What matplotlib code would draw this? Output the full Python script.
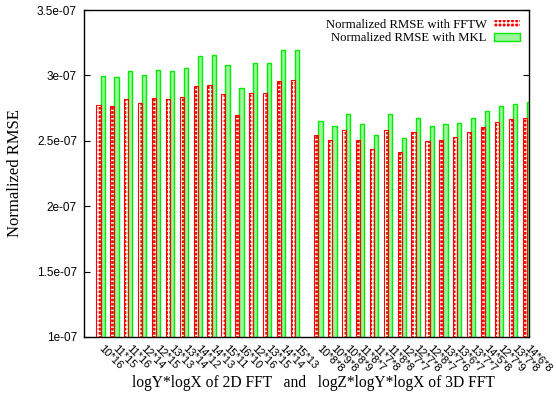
import numpy as np
import matplotlib
matplotlib.use("Agg")
import matplotlib.pyplot as plt
from matplotlib.patches import Patch

# 2D FFT sizes (logY*logX) and 3D FFT sizes (logZ*logY*logX)
labels_2d = ["10*16", "11*15", "11*16", "12*14", "12*15", "13*13", "13*14", "14*12",
             "14*13", "15*11", "16*10", "12*16", "13*15", "14*14", "15*13"]
labels_3d = ["10*8*8", "10*9*8", "10*8*9", "11*8*7", "11*7*8", "11*8*8", "12*7*7", "12*7*8",
             "12*8*7", "13*7*6", "13*6*7", "13*7*7", "14*5*8", "12*7*9", "13*7*8", "14*6*8"]

# normalized RMSE, units of 1e-07
fftw_2d = [2.774, 2.766, 2.817, 2.789, 2.827, 2.817, 2.835, 2.919,
           2.927, 2.858, 2.697, 2.865, 2.865, 2.957, 2.965]
mkl_2d = [2.995, 2.985, 3.036, 3.003, 3.041, 3.031, 3.057, 3.148,
          3.156, 3.080, 2.901, 3.092, 3.095, 3.192, 3.194]
fftw_3d = [2.544, 2.506, 2.585, 2.506, 2.437, 2.585, 2.414, 2.567,
           2.498, 2.506, 2.527, 2.567, 2.606, 2.646, 2.667, 2.674]
mkl_3d = [2.654, 2.613, 2.703, 2.626, 2.544, 2.703, 2.524, 2.672,
          2.613, 2.626, 2.634, 2.672, 2.726, 2.766, 2.784, 2.797]

yticks = [1.0, 1.5, 2.0, 2.5, 3.0, 3.5]
ytick_labels = ["1e-07", "1.5e-07", "2e-07", "2.5e-07", "3e-07", "3.5e-07"]

scale = 1e-07
fftw = np.array(fftw_2d + fftw_3d) * scale
mkl = np.array(mkl_2d + mkl_3d) * scale
names = labels_2d + labels_3d

gap = 1.7
x = np.concatenate([np.arange(len(labels_2d)),
                    len(labels_2d) - 1 + gap + np.arange(len(labels_3d))])
w = 0.3

fig = plt.figure(figsize=(5.56, 3.93), dpi=100)
ax = fig.add_axes([0.151, 0.1425, 0.8, 0.832])

serif = ["Liberation Serif", "DejaVu Serif"]
sans = ["Liberation Sans", "DejaVu Sans"]

ax.bar(x - w / 2, fftw, w, bottom=0, color="red", edgecolor="white",
       hatch="++++", linewidth=0, zorder=2)
ax.bar(x - w / 2, fftw, w, fill=False, edgecolor="red", linewidth=0.8, zorder=3)
ax.bar(x + w / 2, mkl, w, color="#9cf59c", edgecolor="#00ee00", linewidth=1.0, zorder=2)

ax.set_xlim(-1.195, x[-1] + 0.15)
ax.set_ylim(1e-07, 3.5e-07)
ax.set_yticks(np.array(yticks) * scale)
ax.set_yticklabels(ytick_labels, family=sans, fontsize=8.5)
ax.set_xticks(x)
ax.set_xticklabels(names, family=sans, fontsize=8, rotation=-45,
                   ha="left", va="center", rotation_mode="anchor")
ax.tick_params(axis="y", direction="in", length=4, width=0.8, right=True, pad=5)
ax.tick_params(axis="x", direction="in", length=0, pad=7)
for s in ax.spines.values():
    s.set_linewidth(1.0)

ax.set_ylabel("Normalized RMSE", family=serif, fontsize=12, labelpad=10)
ax.set_xlabel("logY*logX of 2D FFT   and   logZ*logY*logX of 3D FFT",
              family=serif, fontsize=11.2)
ax.xaxis.set_label_coords(0.517, -0.117)

handles = [Patch(facecolor="red", edgecolor="white", hatch="++++", linewidth=0),
           Patch(facecolor="#9cf59c", edgecolor="#00ee00", linewidth=1.0)]
leg = ax.legend(handles, ["Normalized RMSE with FFTW", "Normalized RMSE with MKL"],
                loc="upper right", frameon=False, markerfirst=False,
                prop={"family": serif, "size": 9.2}, handlelength=2.0, handleheight=0.55,
                labelspacing=0.12, borderaxespad=0.3, handletextpad=0.6)

fig.savefig("out.png", dpi=100)
